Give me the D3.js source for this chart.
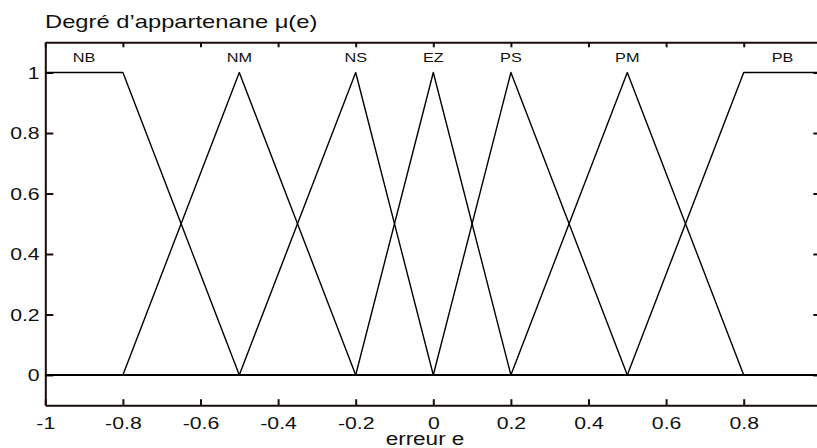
<!DOCTYPE html>
<html>
<head>
<meta charset="utf-8">
<script src="https://cdn.jsdelivr.net/npm/d3@7"></script>
<style>
  body { margin: 0; background: #fff; }
  svg { display: block; font-family: "Liberation Sans", Arial, sans-serif; }
  .axis path, .axis line { stroke: #1a0a0a; stroke-width: 2; }
  .mf { fill: none; stroke: #000; stroke-width: 1.4; stroke-linejoin: round; }
</style>
</head>
<body>
<svg id="chart" width="817" height="448"></svg>
<script>
/*** DATA ***/
var setNames = ['NB', 'NM', 'NS', 'EZ', 'PS', 'PM', 'PB'];
var setX = [
  [-1, -0.8, -0.5],
  [-0.8, -0.5, -0.2],
  [-0.5, -0.2, 0],
  [-0.2, 0, 0.2],
  [0, 0.2, 0.5],
  [0.2, 0.5, 0.8],
  [0.5, 0.8, 1]
];
var setY = [
  [1, 1, 0],
  [0, 1, 0],
  [0, 1, 0],
  [0, 1, 0],
  [0, 1, 0],
  [0, 1, 0],
  [0, 1, 1]
];
var labelX = [-0.9, -0.5, -0.2, 0, 0.2, 0.5, 0.9];
var labelY = 1.05;
var xTicks = [-1, -0.8, -0.6, -0.4, -0.2, 0, 0.2, 0.4, 0.6, 0.8];
var yTicks = [0, 0.2, 0.4, 0.6, 0.8, 1];
var titleText = 'Degré d’appartenane μ(e)';
var xLabelText = 'erreur e';

/*** LAYOUT ***/
var svg = d3.select('#chart');
var stretch = 1.25; //text in the picture is wider than the font
var plainFormat = function(d) { return String(d); }; //hyphen, not unicode minus

var x = d3.scaleLinear().domain([-1, 1]).range([45.3, 821.3]);
var y = d3.scaleLinear().domain([-0.1, 1.1]).range([405.2, 42.3]);

//axes (inward ticks)
svg.append('g')
  .attr('class', 'axis')
  .attr('transform', 'translate(0,' + y(-0.1) + ')')
  .call(d3.axisBottom(x).tickValues(xTicks).tickSize(-6).tickSizeOuter(0).tickFormat(plainFormat))
  .call(function(g) {
    g.selectAll('text')
      .attr('y', 12)
      .attr('dy', '0.71em')
      .attr('transform', 'scale(' + stretch + ',1)')
      .style('font-size', '17px')
      .style('fill', '#111');
  });

svg.append('g')
  .attr('class', 'axis')
  .attr('transform', 'translate(0,' + y(1.1) + ')')
  .call(d3.axisTop(x).tickValues(xTicks).tickSize(-5).tickSizeOuter(0).tickFormat(''));

svg.append('g')
  .attr('class', 'axis')
  .attr('transform', 'translate(' + x(-1) + ',0)')
  .call(d3.axisLeft(y).tickValues(yTicks).tickSize(-8).tickSizeOuter(0).tickFormat(plainFormat))
  .call(function(g) {
    g.selectAll('text')
      .attr('x', -4.5)
      .attr('dy', '0.34em')
      .attr('transform', 'scale(' + stretch + ',1)')
      .style('font-size', '17px')
      .style('fill', '#111');
  });

svg.append('g')
  .attr('class', 'axis')
  .attr('transform', 'translate(' + x(1) + ',0)')
  .call(d3.axisRight(y).tickValues(yTicks).tickSize(-8).tickSizeOuter(0).tickFormat(''));

//zero line
svg.append('line')
  .attr('x1', x(-1)).attr('x2', x(1))
  .attr('y1', y(0)).attr('y2', y(0))
  .attr('stroke', '#000')
  .attr('stroke-width', 2);

//membership functions
var line = d3.line()
  .x(function(d) { return x(d[0]); })
  .y(function(d) { return y(d[1]); });

setNames.forEach(function(name, i) {
  var pts = setX[i].map(function(v, j) { return [v, setY[i][j]]; });
  svg.append('path')
    .attr('class', 'mf')
    .attr('d', line(pts));
});

//set labels
svg.selectAll('.set-label')
  .data(setNames)
  .enter().append('text')
  .attr('class', 'set-label')
  .attr('transform', function(d, i) { return 'translate(' + x(labelX[i]) + ',' + (y(labelY) + 5) + ') scale(' + stretch + ',1)'; })
  .attr('text-anchor', 'middle')
  .style('font-size', '13px')
  .style('fill', '#111')
  .text(function(d) { return d; });

//titles
svg.append('text')
  .attr('transform', 'translate(45,28) scale(' + stretch + ',1)')
  .style('font-size', '19px')
  .style('fill', '#111')
  .text(titleText);

svg.append('text')
  .attr('transform', 'translate(425,445) scale(' + stretch + ',1)')
  .attr('text-anchor', 'middle')
  .style('font-size', '18px')
  .style('fill', '#111')
  .text(xLabelText);
</script>
</body>
</html>
